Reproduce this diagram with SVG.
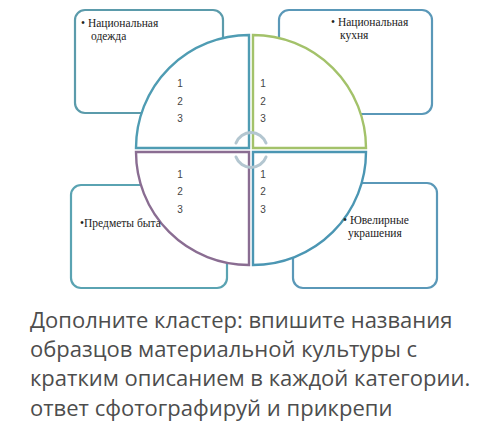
<svg xmlns="http://www.w3.org/2000/svg" width="500" height="441" viewBox="0 0 500 441">
<style>
.box{fill:#fff;stroke-width:2.2}
.quad{fill:#fff;stroke-width:2.4}
.lbl{font-family:"Liberation Serif","Times New Roman",serif;font-size:11.5px;fill:#222}
.num{font-family:"Liberation Sans",Arial,sans-serif;font-size:10px;fill:#444;text-anchor:middle}
.cap{font-family:"Open Sans","Noto Sans",sans-serif;font-size:22px;fill:#4d4d4d}
.arc{fill:none;stroke:#b3c6d0;stroke-width:3;stroke-linecap:round}
</style>
<rect width="500" height="441" fill="#fff"/>
<g id="box-odezhda">
<rect class="box" x="75" y="10" width="148" height="103" rx="10" stroke="#5b9bab"/>
</g>
<g id="box-kukhnya">
<rect class="box" x="279" y="10" width="153" height="104" rx="10" stroke="#5a98b8"/>
</g>
<g id="box-byt">
<rect class="box" x="71" y="185" width="156" height="103" rx="10" stroke="#5aa3b2"/>
</g>
<g id="box-ukrasheniya">
<rect class="box" x="293" y="183" width="144" height="105" rx="10" stroke="#5a98b8"/>
</g>
<g id="connectors">
<path class="quad" stroke="#4f9cb3" d="M249 148 L136 148 A113 113 0 0 1 249 35 Z"/>
<path class="quad" stroke="#a3c26a" d="M253 148 L253 35 A113 113 0 0 1 366 148 Z"/>
<path class="quad" stroke="#8a6d92" d="M249 152 L249 265 A113 113 0 0 1 136 152 Z"/>
<path class="quad" stroke="#4b96b3" d="M253 152 L366 152 A113 113 0 0 1 253 265 Z"/>
<path class="arc" d="M236 143 A16 16 0 0 1 266 143"/>
<path class="arc" d="M236 157 A16 16 0 0 0 266 157"/>
</g>
<g id="labels-odezhda">
<text class="lbl" x="81" y="27">• Национальная</text>
<text class="lbl" x="91" y="40">одежда</text>
</g>
<g id="labels-kukhnya">
<text class="lbl" x="331" y="26">• Национальная</text>
<text class="lbl" x="340" y="39">кухня</text>
</g>
<g id="labels-byt">
<text class="lbl" x="80" y="227">•Предметы быта</text>
</g>
<g id="labels-ukrasheniya">
<text class="lbl" x="343" y="224">• Ювелирные</text>
<text class="lbl" x="348" y="237">украшения</text>
</g>
<g id="numbers">
<text class="num" x="180" y="87">1</text>
<text class="num" x="180" y="105">2</text>
<text class="num" x="180" y="122">3</text>
<text class="num" x="263" y="87">1</text>
<text class="num" x="263" y="105">2</text>
<text class="num" x="263" y="122">3</text>
<text class="num" x="180" y="178">1</text>
<text class="num" x="180" y="195">2</text>
<text class="num" x="180" y="213">3</text>
<text class="num" x="263" y="178">1</text>
<text class="num" x="263" y="195">2</text>
<text class="num" x="263" y="213">3</text>
</g>
<g id="caption">
<text class="cap" x="30" y="328">Дополните кластер: впишите названия</text>
<text class="cap" x="30" y="357">образцов материальной культуры с</text>
<text class="cap" x="30" y="386">кратким описанием в каждой категории.</text>
<text class="cap" x="30" y="416">ответ сфотографируй и прикрепи</text>
</g>
</svg>
